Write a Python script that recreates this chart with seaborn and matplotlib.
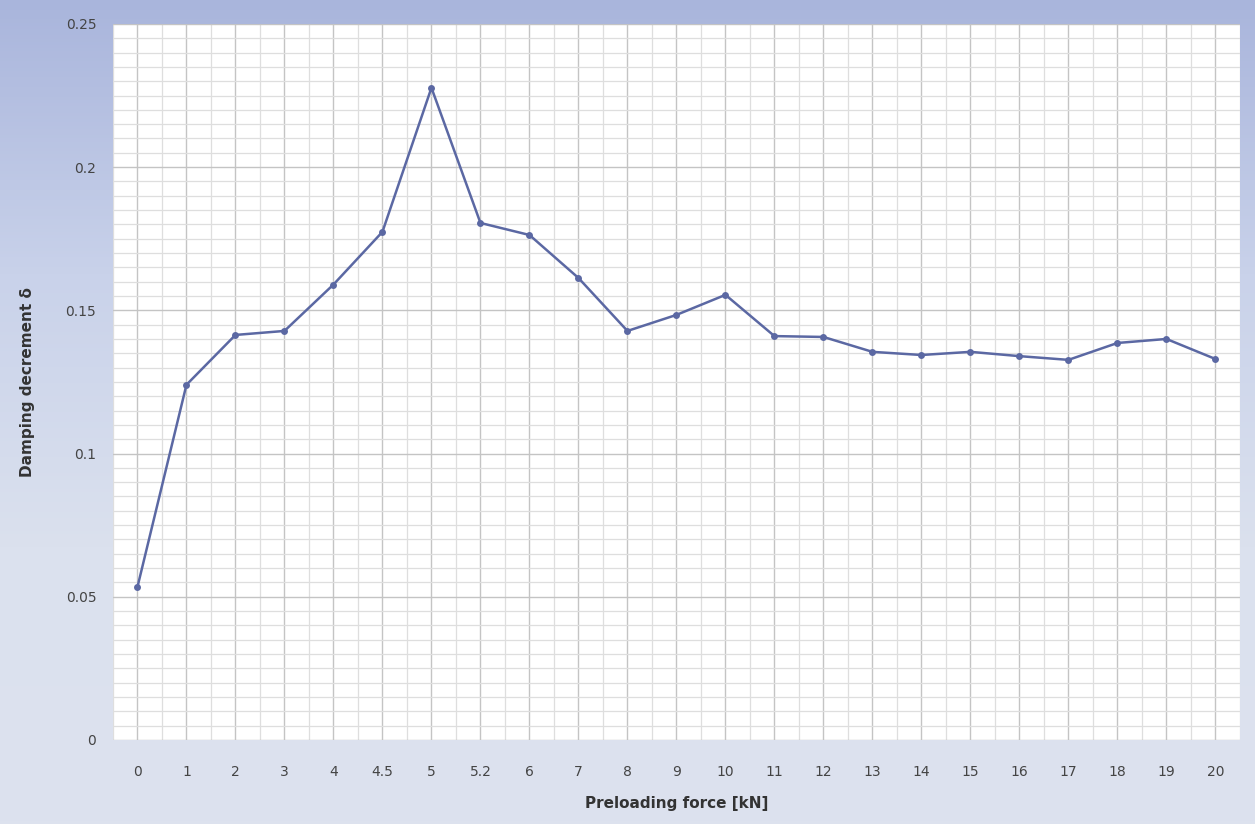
import numpy as np
import pandas as pd
import seaborn as sns
import matplotlib.pyplot as plt
from matplotlib.ticker import MultipleLocator, FixedLocator

# data
force_labels = ['0', '1', '2', '3', '4', '4.5', '5', '5.2', '6', '7', '8', '9',
                '10', '11', '12', '13', '14', '15', '16', '17', '18', '19', '20']
damping = [0.0534, 0.124, 0.1414, 0.1428, 0.159, 0.1774, 0.2277, 0.1805,
           0.1763, 0.1613, 0.1428, 0.1484, 0.1554, 0.141, 0.1407, 0.1355,
           0.1344, 0.1355, 0.134, 0.1327, 0.1386, 0.140, 0.133]

df = pd.DataFrame({'force': force_labels, 'delta': damping})

sns.set_style('white')
plt.rcParams['font.family'] = ['DejaVu Sans']

fig = plt.figure(figsize=(12.55, 8.24), dpi=100)

# bluish gradient frame behind everything
bg = fig.add_axes([0, 0, 1, 1], zorder=-10)
grad = np.linspace(0, 1, 256).reshape(-1, 1)
bg.imshow(grad, aspect='auto', cmap=sns.blend_palette(['#a9b5dc', '#c9d2ea', '#dbe1ee', '#dde2ee'], as_cmap=True),
          extent=[0, 1, 0, 1], origin='upper')
bg.axis('off')

ax = fig.add_axes([0.090, 0.102, 0.898, 0.869])
ax.set_facecolor('white')

sns.lineplot(data=df, x='force', y='delta', sort=False, ax=ax, color='#5b68a3',
             linewidth=1.8, marker='o', markersize=5, markeredgewidth=0,
             zorder=5)

ax.set_xlim(-0.5, len(force_labels) - 0.5)
ax.set_ylim(0, 0.25)
ax.set_yticks([0, 0.05, 0.1, 0.15, 0.2, 0.25])
ax.set_yticklabels(['0', '0.05', '0.1', '0.15', '0.2', '0.25'])

ax.yaxis.set_minor_locator(MultipleLocator(0.005))
ax.xaxis.set_minor_locator(FixedLocator(np.arange(-0.5, len(force_labels), 0.5)))
ax.grid(True, which='major', axis='both', color='#c4c4c4', linewidth=1.0)
ax.grid(True, which='minor', axis='both', color='#dedede', linewidth=0.9)
ax.set_axisbelow(True)

for s in ax.spines.values():
    s.set_visible(False)
ax.tick_params(axis='both', which='both', length=0, labelsize=10, colors='#444444')
ax.tick_params(axis='x', pad=18)
ax.tick_params(axis='y', pad=12)

ax.set_xlabel('Preloading force [kN]', fontsize=11, fontweight='bold', color='#333333', labelpad=12)
ax.set_ylabel('Damping decrement δ', fontsize=11, fontweight='bold', color='#333333', labelpad=22)

fig.savefig('out.png', dpi=100)
